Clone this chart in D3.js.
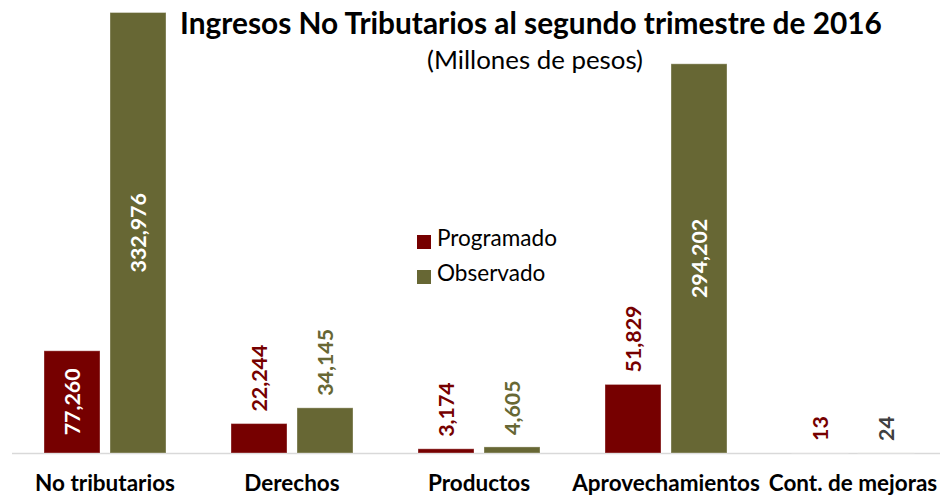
<!DOCTYPE html>
<html>
<head>
<meta charset="utf-8">
<script src="https://cdn.jsdelivr.net/npm/d3@7"></script>
<style>
  html, body { margin: 0; padding: 0; background: #fff; }
  svg { display: block; }
  text { font-family: Lato, "Open Sans", sans-serif; }
</style>
</head>
<body>
<svg id="chart" width="940" height="496"></svg>
<script>
// ---- Data ----
const categories = ["No tributarios", "Derechos", "Productos", "Aprovechamientos", "Cont. de mejoras"];
const seriesNames = ["Programado", "Observado"];
const programado = [77260, 22244, 3174, 51829, 13];
const observado = [332976, 34145, 4605, 294202, 24];
const titleText = "Ingresos No Tributarios al segundo trimestre de 2016";
const subtitleText = "(Millones de pesos)";

// ---- Styles ----
const colors = { Programado: "#760000", Observado: "#676734" };
const W = 940, H = 496;
const svg = d3.select("#chart");

// helper: font size so that a string reaches a target width
function fitSize(str, weight, target, base = 20) {
  const t = svg.append("text").attr("font-size", base).attr("font-weight", weight).text(str);
  const w = t.node().getComputedTextLength();
  t.remove();
  return base * target / w;
}

const y = d3.scaleLinear().domain([0, 350000]).range([453, -10]);
const x = d3.scaleBand().domain(categories).range([11.5, 946.5])
  .paddingInner(65 / 187).paddingOuter(32.5 / 187);
const xs = d3.scaleBand().domain(seriesNames).range([0, x.bandwidth()]).paddingInner(10 / 66);

const rows = categories.map((c, i) => ({ cat: c, values: [
  { s: "Programado", v: programado[i] }, { s: "Observado", v: observado[i] }] }));

// axis
const axis = svg.append("g").attr("transform", "translate(0,453)")
  .call(d3.axisBottom(x).tickSize(0).tickPadding(0));
axis.select(".domain").attr("stroke", "#d9d9d9").attr("stroke-width", 1.5);
const catSize = fitSize("No tributarios", "bold", 140);
axis.selectAll(".tick text")
  .attr("font-family", "Lato, 'Open Sans', sans-serif")
  .attr("font-size", catSize).attr("font-weight", "bold").attr("fill", "#000")
  .attr("dy", null).attr("y", 38);

// bars
const groups = svg.append("g").selectAll("g").data(rows).join("g")
  .attr("transform", d => `translate(${x(d.cat)},0)`);
groups.selectAll("rect").data(d => d.values).join("rect")
  .attr("x", d => xs(d.s)).attr("width", xs.bandwidth())
  .attr("y", d => y(d.v)).attr("height", d => y(0) - y(d.v))
  .attr("fill", d => colors[d.s])
  .attr("stroke", "#ffffff").attr("stroke-opacity", 0.35).attr("stroke-width", 1);

// value labels
const valSize = fitSize("22,244", "bold", 67);
const fmt = d3.format(",");
groups.selectAll("text.val").data(d => d.values).join("text")
  .attr("class", "val")
  .attr("font-size", valSize).attr("font-weight", "bold")
  .text(d => fmt(d.v))
  .each(function(d) {
    const len = this.getComputedTextLength();
    const h = y(0) - y(d.v);
    const cx = xs(d.s) + xs.bandwidth() / 2;
    const sel = d3.select(this).attr("dominant-baseline", "central");
    if (h > len + 20) {
      const cy = (y(d.v) + y(0)) / 2;
      sel.attr("transform", `translate(${cx},${cy}) rotate(-90)`)
        .attr("text-anchor", "middle").attr("fill", "#fff");
    } else {
      const col = (d.s === "Observado" && d.v < 100) ? "#404040" : colors[d.s];
      sel.attr("transform", `translate(${cx},${y(d.v) - 12}) rotate(-90)`)
        .attr("text-anchor", "start").attr("fill", col);
    }
  });

// title
svg.append("text").attr("x", 531).attr("y", 34).attr("text-anchor", "middle")
  .attr("font-weight", "bold").attr("fill", "#000")
  .attr("font-size", fitSize(titleText, "bold", 702)).text(titleText);
svg.append("text").attr("x", 535).attr("y", 69).attr("text-anchor", "middle")
  .attr("font-weight", "normal").attr("fill", "#000")
  .attr("font-size", fitSize(subtitleText, "normal", 216)).text(subtitleText);

// legend
const legSize = fitSize("Programado", "normal", 120);
const leg = svg.append("g").selectAll("g").data(seriesNames).join("g")
  .attr("transform", (d, i) => `translate(417,${246 + i * 35})`);
leg.append("rect").attr("x", 0).attr("y", -11).attr("width", 14).attr("height", 14)
  .attr("fill", d => colors[d]);
leg.append("text").attr("x", 20).attr("y", 0).attr("font-size", legSize)
  .attr("fill", "#000").text(d => d);
</script>
</body>
</html>
